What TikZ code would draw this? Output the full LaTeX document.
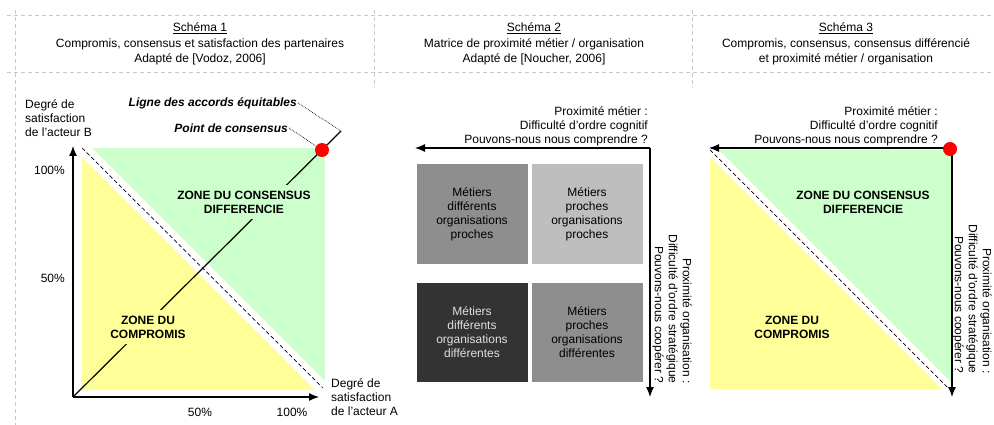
\documentclass[tikz,border=0pt]{standalone}
\usepackage{fontspec}
\setmainfont{Liberation Sans}
\usetikzlibrary{arrows.meta}
\definecolor{zoneyellow}{HTML}{FFFF99}
\definecolor{zonegreen}{HTML}{CCFFCC}
\definecolor{gridgray}{HTML}{C8C8C8}
\definecolor{boxmid}{HTML}{8E8E8E}
\definecolor{boxlight}{HTML}{BEBEBE}
\definecolor{boxdark}{HTML}{333333}
\begin{document}
\begin{tikzpicture}[
    x=1pt,y=-1pt,
    every node/.style={font=\fontsize{12}{14}\selectfont,inner sep=1pt},
    title/.style={align=center,font=\fontsize{12}{15.5}\selectfont},
    grid/.style={gridgray,dashed,dash pattern=on 4pt off 3pt,line width=0.8pt},
    axis/.style={->,>={Latex[length=10pt,width=8pt]},line width=1.2pt},
    equit/.style={black,dash pattern=on 4pt off 2.5pt,line width=0.7pt},
    leader/.style={densely dotted,line width=0.7pt},
    zone/.style={align=center,font=\bfseries\fontsize{12}{14}\selectfont,inner ysep=#1},
    zone/.default=1pt,
    dot/.style={circle,fill=red,inner sep=0pt,minimum size=14pt},
    cell/.style 2 args={fill=#1,text=#2,minimum width=111pt,minimum height=99pt,align=center},
    vlabel/.style={rotate=-90,align=right}
]
\useasboundingbox (0,0) rectangle (994,425);

%Draw the frame
\draw[grid] (7,15) -- (994,15);
\draw[grid] (7,72) -- (994,72);
\draw[grid] (15,10) -- (15,425);
\draw[grid] (374,10) -- (374,88);
\draw[grid] (692,10) -- (692,88);

%Titles
\node[title] (t1) at (200,44) {\underline{Schéma 1}\\Compromis, consensus et satisfaction des partenaires\\Adapté de [Vodoz, 2006]};
\node[title] (t2) at (534,44) {\underline{Schéma 2}\\Matrice de proximité métier / organisation\\Adapté de [Noucher, 2006]};
\node[title] (t3) at (846,44) {\underline{Schéma 3}\\Compromis, consensus, consensus différencié\\et proximité métier / organisation};

%Schema 1
\fill[zoneyellow] (82,157) -- (82,390) -- (315,390) -- cycle;
\fill[zonegreen] (92,148) -- (325,148) -- (325,381) -- cycle;
\draw[equit] (82,148) -- (323,388);
\coordinate (o1) at (73,397);
\coordinate (ya) at (73,146);
\coordinate (xa) at (319,397);
\coordinate (e1) at (341,131);
\draw[axis] (o1) -- (ya);
\draw[axis] (o1) -- (xa);
\draw[line width=1.2pt] (o1) -- (e1);
\node[zone=6pt,fill=zonegreen] (zc1) at (244,202) {ZONE DU CONSENSUS\\DIFFERENCIE};
\node[zone=6pt,fill=zoneyellow] (zp1) at (148,327) {ZONE DU\\COMPROMIS};
\node[dot] (p1) at (322,150) {};
\node[anchor=east,font=\bfseries\itshape\fontsize{12}{14}\selectfont] (l1) at (298,103) {Ligne des accords équitables};
\node[anchor=east,font=\bfseries\itshape\fontsize{12}{14}\selectfont] (l2) at (289,128) {Point de consensus};
\draw[leader] (l1.east) -- (e1);
\draw[leader] (l2.east) -- (p1);
\node[anchor=west,align=left] (ab) at (24,118) {Degré de\\satisfaction\\de l'acteur B};
\node[anchor=west,align=left] (aa) at (330,397) {Degré de\\satisfaction\\de l'acteur A};
\node[anchor=east] (y100) at (66,170) {100\%};
\node[anchor=east] (y50) at (66,278) {50\%};
\node (x50) at (200,412) {50\%};
\node (x100) at (292,412) {100\%};

%Schema 2
\coordinate (c2) at (650,148);
\coordinate (m2) at (415,148);
\coordinate (o2) at (650,397);
\draw[axis] (c2) -- (m2);
\draw[axis] (c2) -- (o2);
\node[anchor=east,align=right] (pm2) at (649,126) {Proximité métier :\\Difficulté d'ordre cognitif\\Pouvons-nous nous comprendre ?};
\node[vlabel] (po2) at (672,309) {Proximité organisation :\\Difficulté d'ordre stratégique\\Pouvons-nous coopérer ?};
\node[cell={boxmid}{black}] (dp) at (472,214) {Métiers\\différents\\organisations\\proches};
\node[cell={boxlight}{black}] (pp) at (587,214) {Métiers\\proches\\organisations\\proches};
\node[cell={boxdark}{white!88!black}] (dd) at (472,332) {Métiers\\différents\\organisations\\différentes};
\node[cell={boxmid}{black}] (pd) at (587,332) {Métiers\\proches\\organisations\\différentes};

%Schema 3
\fill[zoneyellow] (710,157) -- (710,389) -- (942,389) -- cycle;
\fill[zonegreen] (719,150) -- (952,150) -- (952,383) -- cycle;
\draw[equit] (710,150) -- (948,388);
\coordinate (c3) at (952,148);
\coordinate (m3) at (709,148);
\coordinate (o3) at (952,397);
\draw[axis] (c3) -- (m3);
\draw[axis] (c3) -- (o3);
\node[dot] (p3) at (950,149) {};
\node[anchor=east,align=right] (pm3) at (939,126) {Proximité métier :\\Difficulté d'ordre cognitif\\Pouvons-nous nous comprendre ?};
\node[vlabel] (po3) at (972,299) {Proximité organisation :\\Difficulté d'ordre stratégique\\Pouvons-nous coopérer ?};
\node[zone] (zc3) at (863,202) {ZONE DU CONSENSUS\\DIFFERENCIE};
\node[zone] (zp3) at (792,327) {ZONE DU\\COMPROMIS};

\end{tikzpicture}
\end{document}
